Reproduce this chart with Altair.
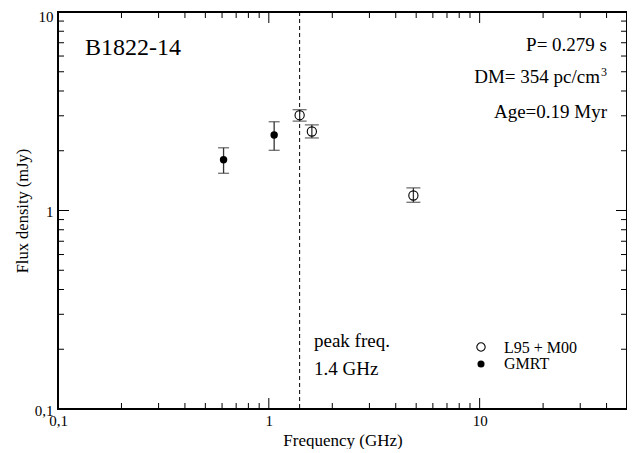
import altair as alt
import pandas as pd

# ---- data ----
gmrt_freq = [0.61, 1.06]
gmrt_flux = [1.80, 2.40]
gmrt_lo = [1.54, 2.01]
gmrt_hi = [2.07, 2.80]

lit_freq = [1.4, 1.6, 4.85]
lit_flux = [3.02, 2.50, 1.19]
lit_lo = [2.82, 2.32, 1.10]
lit_hi = [3.22, 2.70, 1.30]

peak_freq = [1.4]

x_major = [0.1, 1, 10]
x_minor = [0.2, 0.3, 0.4, 0.5, 0.6, 0.7, 0.8, 0.9, 2, 3, 4, 5, 6, 7, 8, 9, 20, 30, 40]
y_major = [0.1, 1, 10]
y_minor = [0.2, 0.3, 0.4, 0.5, 0.6, 0.7, 0.8, 0.9, 2, 3, 4, 5, 6, 7, 8, 9]

series_names = ["L95 + M00", "GMRT"]

W, H = 569, 397
TOP = 4
FONT = "Liberation Serif"

xs = alt.Scale(type="log", domain=[0.1, 50], nice=False)
ys = alt.Scale(type="log", domain=[0.1, 10], nice=False)

gm = pd.DataFrame({"f": gmrt_freq, "s": gmrt_flux, "lo": gmrt_lo, "hi": gmrt_hi})
lt = pd.DataFrame({"f": lit_freq, "s": lit_flux, "lo": lit_lo, "hi": lit_hi})

label_expr = "replace(format(datum.value, '~g'), '.', ',')"

base_axes = alt.Chart(pd.DataFrame({"f": [0.1], "s": [0.1]})).mark_point(opacity=0).encode(
    x=alt.X("f:Q", scale=xs, title="Frequency (GHz)",
            axis=alt.Axis(values=x_major, labelExpr=label_expr, ticks=False, domain=False, grid=False,
                          labelFont=FONT, labelFontSize=15, labelColor="black", labelPadding=4,
                          titleFont=FONT, titleFontSize=17, titleFontWeight="normal", titleColor="black",
                          titlePadding=4, labelFlush=False)),
    y=alt.Y("s:Q", scale=ys, title="Flux  density (mJy)",
            axis=alt.Axis(values=y_major, labelExpr=label_expr, ticks=False, domain=False, grid=False,
                          labelFont=FONT, labelFontSize=15, labelColor="black", labelPadding=5,
                          labelOffset={"condition": {"test": "datum.value >= 10", "value": 4}, "value": 1},
                          titleFont=FONT, titleFontSize=16.5, titleFontWeight="normal", titleColor="black",
                          titlePadding=4, labelFlush=False)),
)

def ticks_x(vals, length):
    d = pd.DataFrame({"v": vals})
    bot = alt.Chart(d).mark_rule(color="black", strokeWidth=1).encode(
        x=alt.X("v:Q", scale=xs), y=alt.value(H), y2=alt.value(H - length))
    top = alt.Chart(d).mark_rule(color="black", strokeWidth=1).encode(
        x=alt.X("v:Q", scale=xs), y=alt.value(0), y2=alt.value(length))
    return bot + top

def ticks_y(vals, length):
    d = pd.DataFrame({"v": vals})
    lft = alt.Chart(d).mark_rule(color="black", strokeWidth=1).encode(
        y=alt.Y("v:Q", scale=ys), x=alt.value(0), x2=alt.value(length))
    rgt = alt.Chart(d).mark_rule(color="black", strokeWidth=1).encode(
        y=alt.Y("v:Q", scale=ys), x=alt.value(W), x2=alt.value(W - length))
    return lft + rgt

vline = alt.Chart(pd.DataFrame({"f": peak_freq})).mark_rule(
    color="black", strokeWidth=1, strokeDash=[4, 3]).encode(
    x=alt.X("f:Q", scale=xs), y=alt.value(0), y2=alt.value(H))

def errbars(df, cap):
    bar = alt.Chart(df).mark_rule(color="#333333", strokeWidth=1.3).encode(
        x=alt.X("f:Q", scale=xs), y=alt.Y("lo:Q", scale=ys), y2="hi:Q")
    c1 = alt.Chart(df).mark_tick(orient="horizontal", size=cap, thickness=1.3, color="#333333").encode(
        x=alt.X("f:Q", scale=xs), y=alt.Y("lo:Q", scale=ys))
    c2 = alt.Chart(df).mark_tick(orient="horizontal", size=cap, thickness=1.3, color="#333333").encode(
        x=alt.X("f:Q", scale=xs), y=alt.Y("hi:Q", scale=ys))
    return bar + c1 + c2

gm_pts = alt.Chart(gm).mark_point(shape="circle", filled=True, size=55, color="black", opacity=1).encode(
    x=alt.X("f:Q", scale=xs), y=alt.Y("s:Q", scale=ys))
lt_pts = alt.Chart(lt).mark_point(shape="circle", filled=False, size=85, color="black",
                                  strokeWidth=1.1, opacity=1).encode(
    x=alt.X("f:Q", scale=xs), y=alt.Y("s:Q", scale=ys))

def txt(s, x, y, size, align="left"):
    return alt.Chart(pd.DataFrame({"t": [s]})).mark_text(
        font=FONT, fontSize=size, align=align, baseline="alphabetic", color="black").encode(
        text="t:N", x=alt.value(x), y=alt.value(y - (TOP - 2)))

texts = (
    txt("B1822-14", 27, 45, 24)
    + txt("P= 0.279 s", 549, 41, 19, "right")
    + txt("DM= 354 pc/cm", 542, 73, 19, "right")
    + txt("3", 549, 66, 12, "right")
    + txt("Age=0.19 Myr", 549, 108, 19, "right")
    + txt("peak freq.", 256, 337, 19)
    + txt("1.4 GHz", 256, 365, 19)
    + txt(series_names[0], 446, 343, 16)
    + txt(series_names[1], 446, 359, 16)
)

leg_open = alt.Chart(pd.DataFrame({"n": [series_names[0]]})).mark_point(
    shape="circle", filled=False, size=70, color="black", strokeWidth=1.1, opacity=1).encode(
    x=alt.value(423), y=alt.value(337 - (TOP - 2)))
leg_fill = alt.Chart(pd.DataFrame({"n": [series_names[1]]})).mark_point(
    shape="circle", filled=True, size=50, color="black", opacity=1).encode(
    x=alt.value(423), y=alt.value(354 - (TOP - 2)))

chart = alt.layer(
    base_axes,
    ticks_x(x_major, 11), ticks_x(x_minor, 6),
    ticks_y(y_major, 11), ticks_y(y_minor, 6),
    vline,
    errbars(gm, 11), errbars(lt, 14),
    gm_pts, lt_pts,
    texts, leg_open, leg_fill,
).properties(
    width=W, height=H,
    autosize=alt.AutoSizeParams(type="none"),
    padding={"left": 50, "top": TOP, "right": 0, "bottom": 40},
    background="white",
).configure_view(stroke="black", strokeWidth=2)

chart.save("out.html", embed_options={"renderer": "svg", "actions": False})
